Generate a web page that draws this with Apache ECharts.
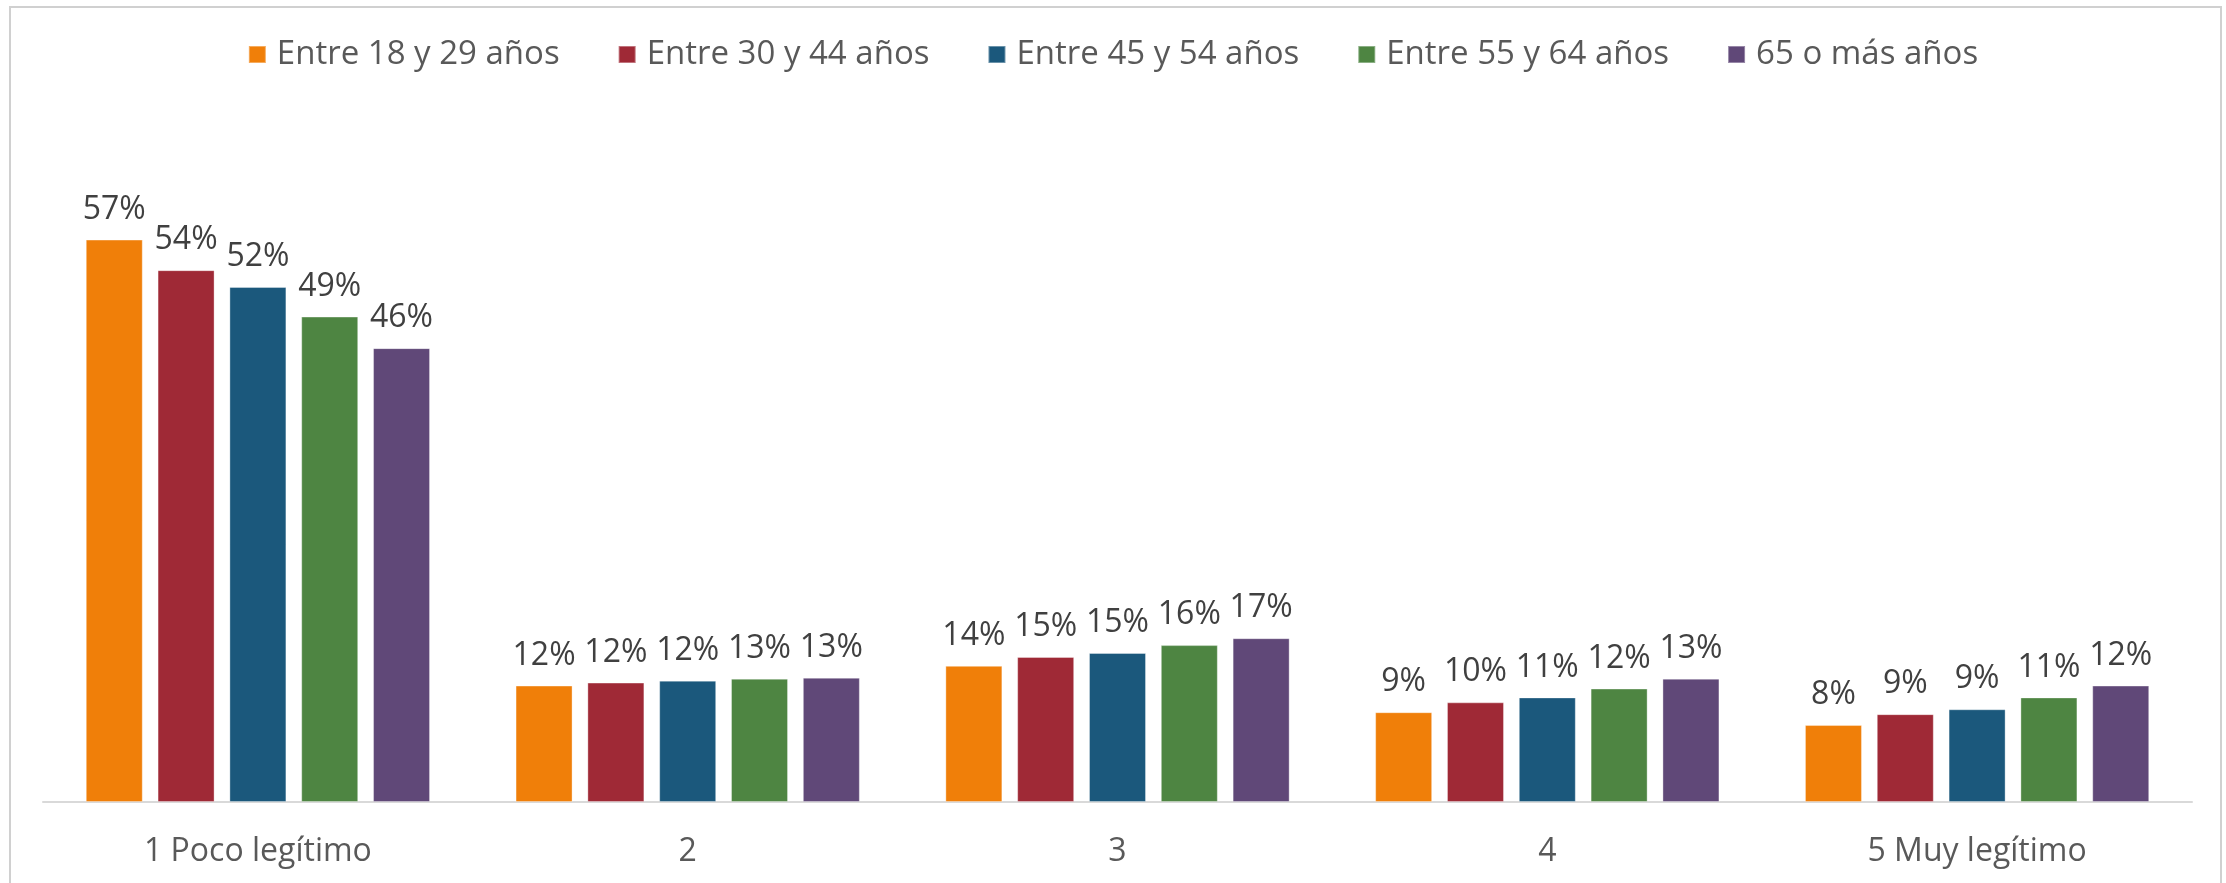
<!DOCTYPE html>
<html>
<head>
<meta charset="utf-8">
<script src="https://cdn.jsdelivr.net/npm/echarts@6/dist/echarts.min.js"></script>
<style>
  html, body { margin: 0; padding: 0; background: #fff; }
  #chart { width: 2226px; height: 883px; }
</style>
</head>
<body>
<div id="chart"></div>
<script>
// categorias y grupos de edad
var categories = ['1 Poco legítimo', '2', '3', '4', '5 Muy legítimo']
var seriesNames = ['Entre 18 y 29 años', 'Entre 30 y 44 años', 'Entre 45 y 54 años', 'Entre 55 y 64 años', '65 o más años']
var colors = ['#F07F09', '#9F2936', '#1B587C', '#4E8542', '#604878']

// valores (%)
var edad18_29 = [57.0, 11.8, 13.8, 9.1, 7.8]
var edad30_44 = [53.9, 12.1, 14.7, 10.1, 8.9]
var edad45_54 = [52.2, 12.3, 15.1, 10.6, 9.4]
var edad55_64 = [49.2, 12.5, 15.9, 11.5, 10.6]
var edad65 = [46.0, 12.6, 16.6, 12.5, 11.8]
var allData = [edad18_29, edad30_44, edad45_54, edad55_64, edad65]

var font = '"Open Sans", "DejaVu Sans", sans-serif'

var chart = echarts.init(document.getElementById('chart'))

var series = allData.map(function (d, i) {
  return {
    name: seriesNames[i],
    type: 'bar',
    data: d,
    barWidth: 57,
    barGap: '26%',
    itemStyle: {
      color: colors[i],
      borderColor: 'rgba(255,255,255,0.35)',
      borderWidth: 1
    },
    label: {
      show: true,
      position: 'top',
      distance: 14,
      color: '#404040',
      fontFamily: font,
      fontSize: 32,
      formatter: function (p) {
        return Math.round(p.value) + '%'
      }
    }
  }
})

chart.setOption({
  animation: false,
  backgroundColor: '#fff',
  color: colors,
  graphic: [{
    type: 'rect',
    shape: { x: 10, y: 7, width: 2211, height: 1000 },
    style: { fill: 'none', stroke: '#D0D0D0', lineWidth: 2 },
    silent: true
  }],
  legend: {
    data: seriesNames,
    top: 33,
    left: 'center',
    itemWidth: 17,
    itemHeight: 17,
    itemGap: 58,
    icon: 'rect',
    textStyle: {
      color: '#595959',
      fontFamily: font,
      fontSize: 33,
      padding: [0, 0, 0, 6]
    }
  },
  grid: {
    left: 43,
    right: 34,
    top: 210,
    bottom: 81
  },
  xAxis: {
    type: 'category',
    data: categories,
    axisLine: { lineStyle: { color: '#D9D9D9', width: 2 } },
    axisTick: { show: false },
    axisLabel: {
      color: '#595959',
      fontFamily: font,
      fontSize: 32,
      margin: 34
    }
  },
  yAxis: {
    type: 'value',
    min: 0,
    max: 60,
    show: false,
    splitLine: { show: false }
  },
  series: series
})
</script>
</body>
</html>
